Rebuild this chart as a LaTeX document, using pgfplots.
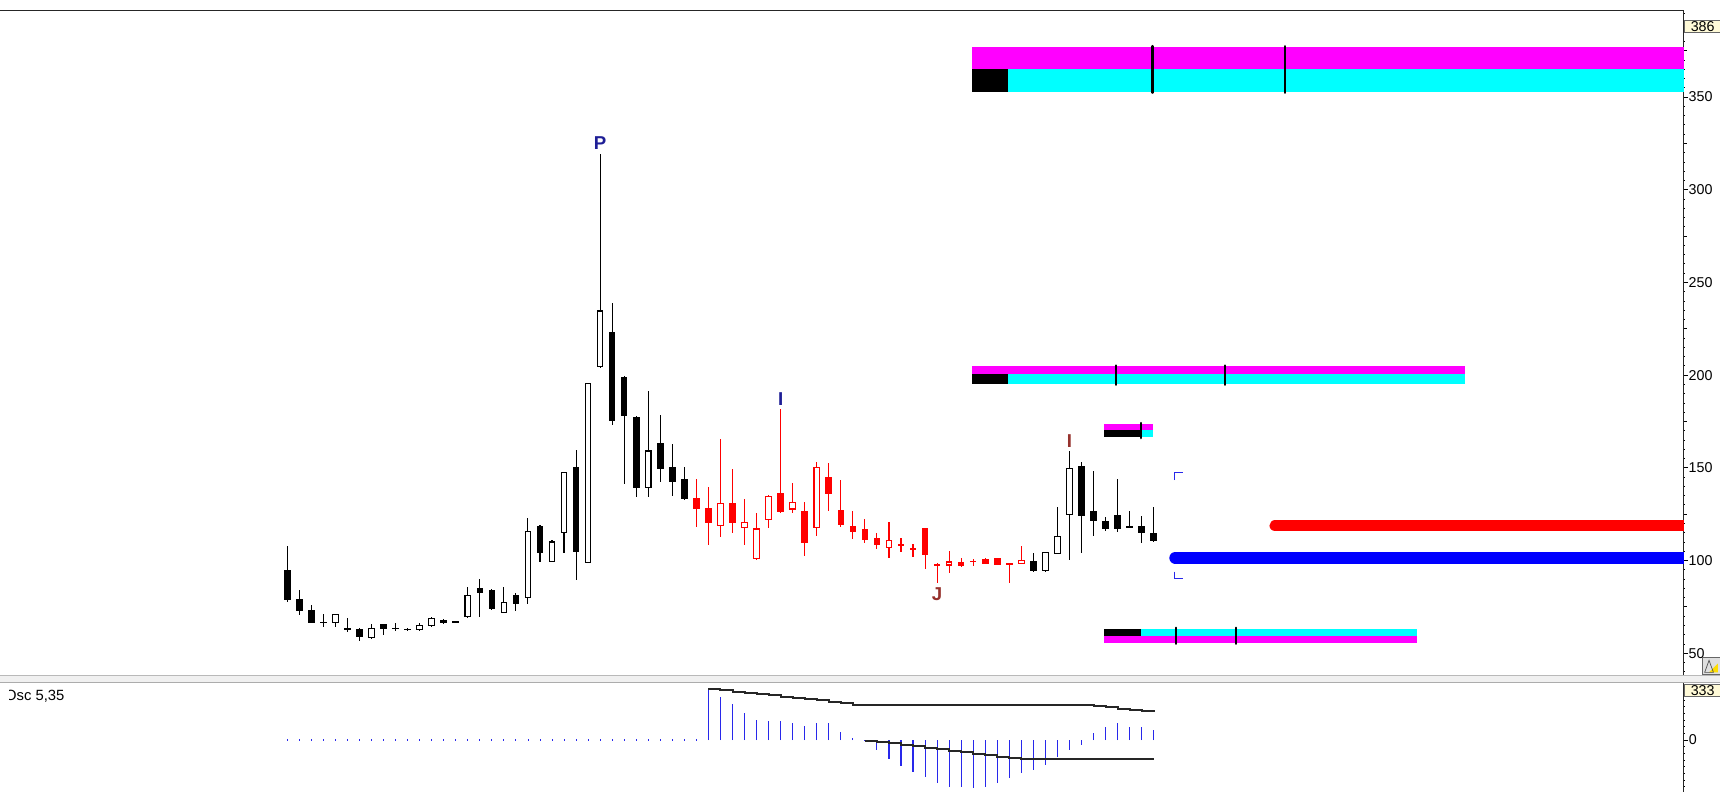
\documentclass[border=0pt]{standalone}
\usepackage{fontspec}
\setmainfont{Liberation Sans}
\usepackage{pgfplots}
\pgfplotsset{compat=1.18}
\usepackage{pgfplotstable}

\definecolor{oscblue}{RGB}{40,40,235}
\definecolor{lblnavy}{RGB}{30,30,150}
\definecolor{lblbrown}{RGB}{150,50,45}
\definecolor{cream}{RGB}{255,250,215}
\definecolor{zmag}{RGB}{255,0,255}
\definecolor{zcyan}{RGB}{0,255,255}
\definecolor{lineblue}{RGB}{0,0,255}

\pgfdeclareplotmark{emptymark}{}
\pgfplotsset{nomark/.style={only marks, mark=emptymark}}

\pgfplotstableread{
i O H L C
0 94.9 108.1 77.9 78.8
1 79.1 84.1 70.7 72.8
2 73.4 76.1 66.2 66.5
3 67.0 71.0 64.4 66.4
5 63.8 68.8 61.7 62.6
6 63.1 63.5 56.8 58.6
8 65.8 65.9 59.9 62.9
9 63.7 66.5 62.2 63.1
10 63.3 63.6 62.2 62.7
13 68.0 68.3 65.8 66.5
14 67.4 67.6 66.1 66.6
16 85.4 89.9 69.8 82.3
17 84.1 84.5 73.4 73.7
19 81.3 82.7 73.0 76.6
21 118.7 118.9 99.4 104.3
24 150.3 159.7 89.5 104.8
27 223.1 239.1 173.2 175.3
28 199.2 199.5 141.3 178.2
29 177.6 177.8 134.1 139.3
31 163.2 178.5 142.2 149.4
32 150.3 162.7 135.0 142.2
33 143.8 150.3 132.7 133.2
62 99.9 104.3 93.7 94.4
66 151.2 153.4 103.9 124.1
67 126.8 148.5 113.3 121.4
68 121.4 123.7 116.0 116.9
69 124.6 144.0 115.6 117.0
70 118.6 126.8 118.0 118.0
71 118.8 124.1 109.3 114.7
72 114.7 129.1 110.2 110.8
}\blackdown

\pgfplotstableread{
i O H L C
4 66.7 71.2 64.4 71.0
7 58.6 65.8 57.9 63.1
11 62.7 66.5 62.2 65.1
12 64.9 69.4 64.4 68.9
15 69.6 85.6 68.9 81.1
18 72.1 85.6 71.6 77.3
20 80.2 123.1 76.6 115.6
22 99.6 111.3 99.4 110.0
23 115.1 147.6 103.9 147.4
25 98.9 196.0 98.5 195.6
26 204.6 319.1 203.7 234.6
30 139.3 191.5 134.1 159.1
63 94.4 104.8 94.0 104.4
64 103.9 129.1 103.5 112.9
65 125.0 159.1 100.3 149.8
}\blackup

\pgfplotstableread{
i O H L C
34 133.9 144.0 118.3 127.7
35 128.2 139.5 108.4 120.5
37 130.9 149.2 114.7 120.5
41 136.6 181.6 125.5 126.0
43 126.8 131.8 102.5 109.7
45 145.3 152.4 126.9 135.7
46 127.3 143.5 118.3 119.0
47 118.7 126.8 111.8 115.4
48 117.2 122.3 109.3 111.1
49 112.2 115.1 106.1 108.4
51 108.8 112.0 104.8 108.0
52 106.6 108.8 102.1 105.9
53 117.4 117.6 95.3 103.2
54 97.9 98.9 88.1 97.3
56 99.4 101.2 96.7 97.3
57 99.9 100.9 97.3 99.3
58 100.9 101.2 98.0 98.2
59 101.6 101.6 97.4 97.4
60 98.5 98.9 88.1 97.9
}\reddown

\pgfplotstableread{
i O H L C
36 118.7 165.6 112.5 130.9
38 117.8 133.2 108.4 120.6
39 100.9 125.5 100.3 117.0
40 122.3 135.4 117.4 134.5
42 127.8 141.7 125.5 131.4
44 117.8 153.4 113.3 150.3
50 107.0 121.0 101.2 110.6
55 97.6 105.2 93.1 99.2
61 98.3 108.0 98.0 99.9
}\redup

\pgfplotstableread{
i v
0 0
1 0
2 0
3 0
4 0
5 0
6 0
7 0
8 0
9 0
10 0
11 0
12 0
13 0
14 0
15 0
16 0
17 0
18 0
19 0
20 0
21 0
22 0
23 0
24 0
25 0
26 0
27 0
28 0
29 0
30 0
31 0
32 0
33 0
34 0
}\osczero

\pgfplotstableread{
i v
35 152
36 130
37 107
38 82
39 60
40 58
41 58
42 52
43 42
44 50
45 50
46 25
47 5
48 -3
49 -30
50 -58
51 -78
52 -95
53 -110
54 -128
55 -140
56 -142
57 -145
58 -142
59 -130
60 -115
61 -100
62 -90
63 -75
64 -52
65 -30
66 -15
67 20
68 38
69 50
70 38
71 38
72 30
}\osc

\pgfplotstableread{
i u
35 152
36 149
37 145
38 141
39 137
40 134
41 130
42 127
43 123
44 119
45 115
46 111
47 106
48 105
49 105
50 105
51 105
52 105
53 105
54 105
55 105
56 105
57 105
58 105
59 105
60 105
61 105
62 105
63 105
64 105
65 105
66 105
67 101
68 98
69 94
70 91
71 88
72 85
}\oscup

\pgfplotstableread{
i l
48 -2
49 -6
50 -10
51 -14
52 -19
53 -23
54 -27
55 -32
56 -36
57 -41
58 -45
59 -50
60 -54
61 -58
62 -58
63 -58
64 -58
65 -58
66 -58
67 -58
68 -58
69 -58
70 -58
71 -58
72 -58
}\osclow

\newcommand{\wicks}[2]{%
\addplot[#2, nomark, forget plot, error bars/.cd, y dir=both, y explicit, error mark=none, error bar style={line width=1pt, #2}]
 table[x=i, y expr={(\thisrow{H}+\thisrow{L})/2}, y error expr={(\thisrow{H}-\thisrow{L})/2}] {#1};}
\newcommand{\filledbodies}[2]{%
\addplot[#2, nomark, forget plot, error bars/.cd, y dir=both, y explicit, error mark=none, error bar style={line width=6pt, #2}]
 table[x=i, y expr={(\thisrow{O}+\thisrow{C})/2}, y error expr={max(abs(\thisrow{O}-\thisrow{C})/2,0.3)}] {#1};}
\newcommand{\hollowbodies}[2]{%
\addplot[#2, nomark, forget plot, error bars/.cd, y dir=both, y explicit, error mark=none, error bar style={line width=6pt, #2}]
 table[x=i, y expr={(\thisrow{O}+\thisrow{C})/2}, y error expr={abs(\thisrow{O}-\thisrow{C})/2+0.3}] {#1};
\addplot[white, nomark, forget plot, error bars/.cd, y dir=both, y explicit, error mark=none, error bar style={line width=4pt, white}]
 table[x=i, y expr={(\thisrow{O}+\thisrow{C})/2}, y error expr={max(abs(\thisrow{O}-\thisrow{C})/2-0.3,0)}] {#1};}

\begin{document}
\begin{tikzpicture}
\path[use as bounding box] (0pt,0pt) rectangle (1568pt,722pt);
\fill[white] (0pt,0pt) rectangle (1568pt,722pt);

% ---------- main price panel ----------
\begin{axis}[
  at={(0pt,106pt)}, anchor=south west, scale only axis,
  width=1535pt, height=606pt,
  xmin=-23.87, xmax=116.05, ymin=37.87, ymax=396.45,
  axis x line=top, axis y line=right, axis line style={-, black!85, line width=0.9pt},
  xtick=\empty,
  ytick={50,100,...,350},
  minor ytick={40,45,...,395},
  extra y ticks={75,125,...,375}, extra y tick labels={},
  extra y tick style={major tick length=2.5pt},
  tick align=outside, major tick length=4pt, minor tick length=1pt,
  tick style={black, line width=0.8pt},
  yticklabel style={font=\fontsize{13}{13}\selectfont, inner sep=0.3pt},
  /pgf/number format/assume math mode=true,
]
% projection zones
\addplot[fill=zmag, draw=none] coordinates {(56.9,365.0) (117,365.0) (117,376.9) (56.9,376.9)} -- cycle;
\addplot[fill=zcyan, draw=none] coordinates {(56.9,352.9) (117,352.9) (117,365.0) (56.9,365.0)} -- cycle;
\addplot[fill=black, draw=none] coordinates {(56.9,352.9) (59.9,352.9) (59.9,365.0) (56.9,365.0)} -- cycle;
\addplot[black, line width=2pt, line cap=round] coordinates {(71.9,352.3) (71.9,377.5)};
\addplot[black, line width=2pt, line cap=round] coordinates {(82.9,352.3) (82.9,377.5)};

\addplot[fill=zmag, draw=none] coordinates {(56.9,200.6) (97.9,200.6) (97.9,204.7) (56.9,204.7)} -- cycle;
\addplot[fill=zcyan, draw=none] coordinates {(56.9,195.3) (97.9,195.3) (97.9,200.6) (56.9,200.6)} -- cycle;
\addplot[fill=black, draw=none] coordinates {(56.9,195.3) (59.9,195.3) (59.9,200.6) (56.9,200.6)} -- cycle;
\addplot[black, line width=2pt, line cap=round] coordinates {(68.9,194.8) (68.9,205.2)};
\addplot[black, line width=2pt, line cap=round] coordinates {(77.9,194.8) (77.9,205.2)};

\addplot[fill=zmag, draw=none] coordinates {(67.87,170.4) (71.96,170.4) (71.96,173.7) (67.87,173.7)} -- cycle;
\addplot[fill=zcyan, draw=none] coordinates {(67.87,166.9) (71.96,166.9) (71.96,170.4) (67.87,170.4)} -- cycle;
\addplot[fill=black, draw=none] coordinates {(67.87,166.9) (70.93,166.9) (70.93,170.4) (67.87,170.4)} -- cycle;
\addplot[black, line width=2pt, line cap=round] coordinates {(70.93,166.0) (70.93,174.2)};

\addplot[fill=zcyan, draw=none] coordinates {(67.87,59.2) (93.9,59.2) (93.9,63.3) (67.87,63.3)} -- cycle;
\addplot[fill=zmag, draw=none] coordinates {(67.87,55.6) (93.9,55.6) (93.9,59.2) (67.87,59.2)} -- cycle;
\addplot[fill=black, draw=none] coordinates {(67.87,59.2) (70.93,59.2) (70.93,63.3) (67.87,63.3)} -- cycle;
\addplot[black, line width=2pt, line cap=round] coordinates {(73.85,55.1) (73.85,63.8)};
\addplot[black, line width=2pt, line cap=round] coordinates {(78.86,55.1) (78.86,63.8)};

% target lines
\addplot[red, line width=10.5pt, line cap=round] coordinates {(82.1,118.8) (125,118.8)};
\addplot[lineblue, line width=11pt, line cap=round] coordinates {(73.8,101.5) (125,101.5)};
\addplot[oscblue, line width=1pt] coordinates {(73.76,143.4) (73.76,147.4) (74.4,147.4)};
\addplot[oscblue, line width=1pt] coordinates {(73.76,94.0) (73.76,90.4) (74.4,90.4)};

% candles
\wicks{\blackdown}{black}
\wicks{\blackup}{black}
\wicks{\reddown}{red}
\wicks{\redup}{red}
\filledbodies{\blackdown}{black}
\filledbodies{\reddown}{red}
\hollowbodies{\blackup}{black}
\hollowbodies{\redup}{red}

% pattern letters
\node[font=\fontsize{17}{17}\selectfont\bfseries, text=lblnavy] at (axis cs:26,325) {P};
\node[font=\fontsize{17}{17}\selectfont\bfseries, text=lblnavy] at (axis cs:41,187.3) {I};
\node[font=\fontsize{17}{17}\selectfont\bfseries, text=lblbrown] at (axis cs:65,164.5) {I};
\node[font=\fontsize{17}{17}\selectfont\bfseries, text=lblbrown] at (axis cs:54,81.7) {J};
\end{axis}

% ---------- oscillator panel ----------
\begin{axis}[
  at={(0pt,0pt)}, anchor=south west, scale only axis,
  width=1535pt, height=99pt,
  xmin=-23.87, xmax=116.05, ymin=-156, ymax=170,
  axis x line=none, axis y line=right, axis line style={-, black!85, line width=0.9pt},
  ytick={0}, minor ytick={-140,-120,...,160},
  tick align=outside, major tick length=4pt, minor tick length=1pt,
  tick style={black, line width=0.8pt},
  yticklabel style={font=\fontsize{13}{13}\selectfont, inner sep=0.3pt},
  /pgf/number format/assume math mode=true,
]
\addplot[oscblue, nomark, error bars/.cd, y dir=both, y explicit, error mark=none, error bar style={line width=0.8pt, oscblue}]
  table[x=i, y=v, y error expr=4] {\osczero};
\addplot[oscblue, ycomb, line width=1pt, mark=none] table[x=i, y=v] {\osc};
\addplot[black!85, const plot, line width=1.8pt, mark=none] table[x=i, y=u] {\oscup};
\addplot[black!85, const plot, line width=1.8pt, mark=none] table[x=i, y=l] {\osclow};
\end{axis}

% panel separator
\fill[gray!12] (0pt,100pt) rectangle (1568pt,106pt);
\draw[gray!55, line width=0.8pt] (0pt,106pt) -- (1568pt,106pt);
\draw[gray!65, line width=1.6pt] (0pt,99.8pt) -- (1568pt,99.8pt);

% value boxes on the scales
\node[fill=cream, draw=black!60, line width=0.4pt, anchor=north west, inner sep=0pt, minimum width=33pt, minimum height=11pt, font=\fontsize{13}{13}\selectfont] at (1535.5pt,703.5pt) {386};
\node[fill=cream, draw=black!60, line width=0.4pt, anchor=north west, inner sep=0pt, minimum width=33pt, minimum height=11pt, font=\fontsize{13}{13}\selectfont] at (1535.5pt,98.5pt) {333};
% small tool icon
\draw[black!60, fill=gray!25, line width=0.5pt] (1552pt,107pt) rectangle (1568pt,123pt);
\fill[yellow!80!orange] (1558pt,109pt) -- (1566pt,109pt) -- (1566pt,117pt) -- cycle;
\draw[black!70, line width=0.6pt] (1554pt,109pt) -- (1558pt,120pt) -- (1562pt,109pt) -- cycle;

% oscillator name
\begin{scope}
\clip (9pt,0pt) rectangle (400pt,99pt);
\node[anchor=base west, inner sep=0pt, font=\fontsize{13.5}{14}\selectfont] at (4.5pt,83.3pt) {Osc 5,35};
\end{scope}
\end{tikzpicture}
\end{document}
